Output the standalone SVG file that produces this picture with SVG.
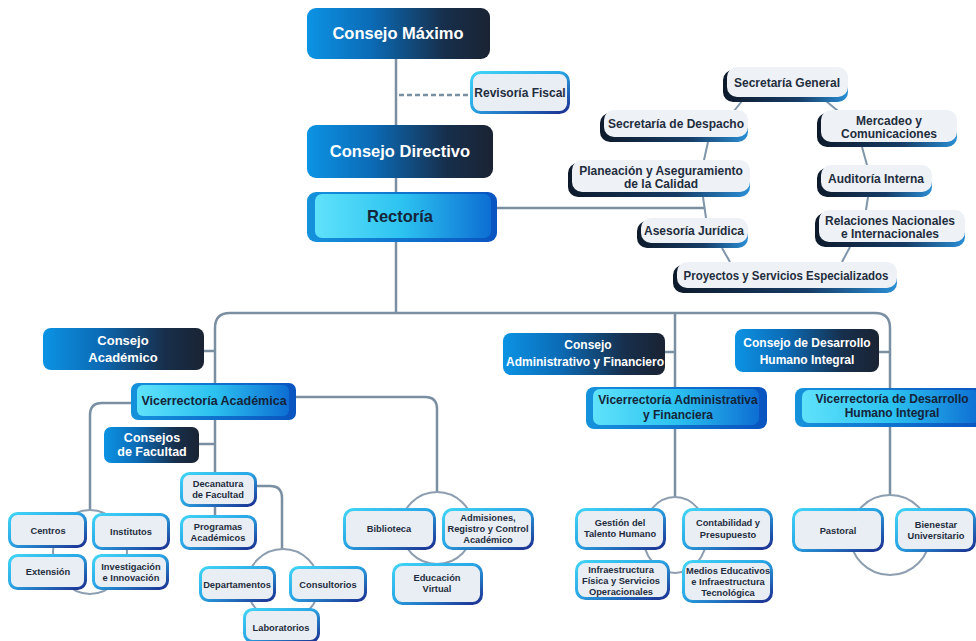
<svg xmlns="http://www.w3.org/2000/svg" width="976" height="641" viewBox="0 0 976 641">
<defs>
<linearGradient id="gDark" x1="0" y1="0" x2="1" y2="0">
<stop offset="0" stop-color="#0c93e4"/><stop offset="0.35" stop-color="#0b6bb6"/><stop offset="0.75" stop-color="#172f4c"/><stop offset="1" stop-color="#1a2333"/>
</linearGradient>
<linearGradient id="gVicOut" x1="0" y1="0" x2="1" y2="0">
<stop offset="0" stop-color="#1592dc"/><stop offset="1" stop-color="#0a54c0"/>
</linearGradient>
<linearGradient id="gVicIn" x1="0" y1="0" x2="1" y2="0">
<stop offset="0" stop-color="#5fe2fb"/><stop offset="0.5" stop-color="#2cc2f0"/><stop offset="1" stop-color="#0d6ed3"/>
</linearGradient>
<linearGradient id="gShadow" x1="0" y1="0" x2="1" y2="0">
<stop offset="0" stop-color="#0d1a2b"/><stop offset="0.6" stop-color="#163c66"/><stop offset="1" stop-color="#2a8ed4"/>
</linearGradient>
<linearGradient id="gStroke" x1="0" y1="0" x2="1" y2="1">
<stop offset="0" stop-color="#42d4f5"/><stop offset="0.45" stop-color="#2aa8e6"/><stop offset="1" stop-color="#1b2f91"/>
</linearGradient>
<style>
.t{font-family:"Liberation Sans",Arial,sans-serif;font-weight:bold;text-anchor:middle}
.w{fill:#ffffff}
.d{fill:#14243a}
.cl{fill:#1f2d3d;font-size:12px}
.sm{fill:#1f2d3d;font-size:9.3px}
.ln{fill:none;stroke:#7b8fa3;stroke-width:2.5}
.lc{fill:none;stroke:#7f95aa;stroke-width:2}
.ring{fill:none;stroke:#8d9eb0;stroke-width:2}
.dk{fill:url(#gDark)}
.vo{fill:url(#gVicOut)}
.vi{fill:url(#gVicIn)}
.sh{fill:url(#gShadow)}
.face{fill:#eef2f7}
.sb{fill:#e9eef5;stroke:url(#gStroke);stroke-width:3}
</style>
</defs>
<rect width="976" height="641" fill="#ffffff"/>

<g id="connectors">
<path class="ln" d="M396,59 V125"/>
<path class="ln" d="M399,95 H470" stroke-dasharray="5 3"/>
<path class="ln" d="M396,178 V192"/>
<path class="ln" d="M396,242 V313"/>
<path class="ln" d="M497,208 H704" stroke-width="3"/>
<path class="lc" d="M742,101 L734,111"/>
<path class="lc" d="M708,142 L704,160"/>
<path class="lc" d="M703,197 L706,218"/>
<path class="lc" d="M722,248 L730,262"/>
<path class="lc" d="M826,101 L838,111"/>
<path class="lc" d="M862,147 L867,165"/>
<path class="lc" d="M868,197 L866,210"/>
<path class="lc" d="M850,247 L842,262"/>
<path class="ln" d="M215,383 V328 Q215,313 230,313 H875 Q890,313 890,328 V388"/>
<path class="ln" d="M675,313 V387"/>
<path class="ln" d="M204,351 H215"/>
<path class="ln" d="M665,352 H675"/>
<path class="ln" d="M879,352 H890"/>
<path class="ln" d="M215,420 V472"/>
<path class="ln" d="M199,444 H215"/>
<path class="ln" d="M215,507 V515"/>
<path class="ln" d="M296,397 H425 Q437,397 437,409 V492"/>
<path class="ln" d="M131,403 H102 Q90,403 90,415 V510"/>
<path class="ln" d="M257,486 H270 Q282,486 282,498 V549"/>
<path class="ln" d="M675,429 V497"/>
<path class="ln" d="M890,427 V495"/>
<ellipse class="ring" cx="90" cy="552" rx="37" ry="42"/>
<circle class="ring" cx="283" cy="585" r="36"/>
<circle class="ring" cx="437" cy="528" r="36"/>
<ellipse class="ring" cx="675" cy="535" rx="32" ry="38"/>
<circle class="ring" cx="890" cy="535" r="40"/>
</g>

<g id="consejo-maximo">
<rect class="dk" x="307" y="8" width="183" height="51" rx="9"/>
<text class="t w" x="398" y="39" font-size="16.5">Consejo Máximo</text>
</g>
<g id="revisoria-fiscal">
<rect class="sb" x="471.5" y="72.5" width="97" height="40" rx="9"/>
<text class="t" x="520" y="97" font-size="12" fill="#1f2d3d">Revisoría Fiscal</text>
</g>
<g id="consejo-directivo">
<rect class="dk" x="307" y="125" width="186" height="53" rx="9"/>
<text class="t w" x="400" y="157" font-size="16.5">Consejo Directivo</text>
</g>
<g id="rectoria">
<rect class="vo" x="307" y="192" width="190" height="50" rx="9"/>
<rect class="vi" x="315" y="194" width="176" height="44" rx="7"/>
<text class="t d" x="400" y="222" font-size="16.5">Rectoría</text>
</g>

<g id="secretaria-general">
<rect class="sh" x="723" y="70" width="125" height="32" rx="10"/>
<rect class="face" x="727" y="67" width="121" height="30" rx="10"/>
<text class="t cl" x="787" y="87">Secretaría General</text>
</g>
<g id="secretaria-despacho">
<rect class="sh" x="600" y="113" width="148" height="29" rx="10"/>
<rect class="face" x="604" y="110" width="144" height="27" rx="10"/>
<text class="t cl" x="676" y="128">Secretaría de Despacho</text>
</g>
<g id="planeacion">
<rect class="sh" x="568" y="163" width="182" height="34" rx="10"/>
<rect class="face" x="572" y="160" width="178" height="32" rx="10"/>
<text class="t cl" x="661" y="175">Planeación y Aseguramiento</text>
<text class="t cl" x="661" y="188">de la Calidad</text>
</g>
<g id="asesoria-juridica">
<rect class="sh" x="637" y="221" width="111" height="27" rx="10"/>
<rect class="face" x="641" y="218" width="107" height="25" rx="10"/>
<text class="t cl" x="694" y="235">Asesoría Jurídica</text>
</g>
<g id="proyectos">
<rect class="sh" x="673" y="265" width="224" height="28" rx="10"/>
<rect class="face" x="677" y="262" width="220" height="26" rx="10"/>
<text class="t cl" x="786" y="280" textLength="205" lengthAdjust="spacingAndGlyphs">Proyectos y Servicios Especializados</text>
</g>
<g id="mercadeo">
<rect class="sh" x="817" y="113" width="140" height="34" rx="10"/>
<rect class="face" x="821" y="110" width="136" height="32" rx="10"/>
<text class="t cl" x="889" y="125">Mercadeo y</text>
<text class="t cl" x="889" y="138">Comunicaciones</text>
</g>
<g id="auditoria">
<rect class="sh" x="817" y="168" width="115" height="29" rx="10"/>
<rect class="face" x="821" y="165" width="111" height="27" rx="10"/>
<text class="t cl" x="876" y="183">Auditoría Interna</text>
</g>
<g id="relaciones">
<rect class="sh" x="815" y="213" width="150" height="34" rx="10"/>
<rect class="face" x="819" y="210" width="146" height="32" rx="10"/>
<text class="t cl" x="890" y="225">Relaciones Nacionales</text>
<text class="t cl" x="890" y="238">e Internacionales</text>
</g>

<g id="consejo-academico">
<rect class="dk" x="43" y="328" width="161" height="42" rx="8"/>
<text class="t w" x="123" y="345" font-size="13">Consejo</text>
<text class="t w" x="123" y="362" font-size="13">Académico</text>
</g>
<g id="vicerrectoria-academica">
<rect class="vo" x="131" y="383" width="165" height="37" rx="7"/>
<rect class="vi" x="137" y="385" width="152" height="31" rx="6"/>
<text class="t d" x="214" y="405" font-size="12.5">Vicerrectoría Académica</text>
</g>
<g id="consejos-facultad">
<rect class="dk" x="104" y="427" width="95" height="36" rx="7"/>
<text class="t w" x="152" y="442" font-size="12.5">Consejos</text>
<text class="t w" x="152" y="456" font-size="12.5">de Facultad</text>
</g>
<g id="consejo-administrativo">
<rect class="dk" x="503" y="333" width="162" height="42" rx="8"/>
<text class="t w" x="588" y="349" font-size="12">Consejo</text>
<text class="t w" x="585" y="366" font-size="12">Administrativo y Financiero</text>
</g>
<g id="vicerrectoria-administrativa">
<rect class="vo" x="586" y="387" width="181" height="42" rx="8"/>
<rect class="vi" x="593" y="389" width="166" height="36" rx="7"/>
<text class="t d" x="678" y="404" font-size="12">Vicerrectoría Administrativa</text>
<text class="t d" x="678" y="419" font-size="12">y Financiera</text>
</g>
<g id="consejo-desarrollo">
<rect class="dk" x="735" y="329" width="144" height="43" rx="8"/>
<text class="t w" x="807" y="347" font-size="12">Consejo de Desarrollo</text>
<text class="t w" x="807" y="364" font-size="12">Humano Integral</text>
</g>
<g id="vicerrectoria-desarrollo">
<rect class="vo" x="795" y="388" width="190" height="39" rx="8"/>
<rect class="vi" x="802" y="390" width="178" height="33" rx="7"/>
<text class="t d" x="892" y="403" font-size="12">Vicerrectoría de Desarrollo</text>
<text class="t d" x="892" y="417" font-size="12">Humano Integral</text>
</g>

<g id="centros">
<rect class="sb" x="9.5" y="513.5" width="76" height="33" rx="8"/>
<text class="t sm" x="48" y="534">Centros</text>
</g>
<g id="institutos">
<rect class="sb" x="93.5" y="514.5" width="75" height="34" rx="8"/>
<text class="t sm" x="131" y="535">Institutos</text>
</g>
<g id="extension">
<rect class="sb" x="9.5" y="555.5" width="76" height="33" rx="8"/>
<text class="t sm" x="48" y="575">Extensión</text>
</g>
<g id="investigacion">
<rect class="sb" x="93.5" y="555.5" width="74" height="33" rx="8"/>
<text class="t sm" x="131" y="570">Investigación</text>
<text class="t sm" x="131" y="581">e Innovación</text>
</g>
<g id="decanatura">
<rect class="sb" x="181.5" y="473.5" width="74" height="32" rx="8"/>
<text class="t sm" x="218" y="487">Decanatura</text>
<text class="t sm" x="218" y="498">de Facultad</text>
</g>
<g id="programas">
<rect class="sb" x="181.5" y="516.5" width="74" height="32" rx="8"/>
<text class="t sm" x="218" y="530">Programas</text>
<text class="t sm" x="218" y="541">Académicos</text>
</g>
<g id="departamentos">
<rect class="sb" x="200.5" y="567.5" width="74" height="33" rx="8"/>
<text class="t sm" x="237" y="588">Departamentos</text>
</g>
<g id="consultorios">
<rect class="sb" x="290.5" y="567.5" width="75" height="33" rx="8"/>
<text class="t sm" x="328" y="588">Consultorios</text>
</g>
<g id="laboratorios">
<rect class="sb" x="244.5" y="609.5" width="74" height="32" rx="8"/>
<text class="t sm" x="281" y="631">Laboratorios</text>
</g>
<g id="biblioteca">
<rect class="sb" x="344.5" y="509.5" width="90" height="39" rx="9"/>
<text class="t sm" x="389" y="532">Biblioteca</text>
</g>
<g id="admisiones">
<rect class="sb" x="443.5" y="509.5" width="89" height="39" rx="9"/>
<text class="t sm" x="488" y="521">Admisiones,</text>
<text class="t sm" x="488" y="532">Registro y Control</text>
<text class="t sm" x="488" y="543">Académico</text>
</g>
<g id="educacion-virtual">
<rect class="sb" x="393.5" y="564.5" width="88" height="39" rx="9"/>
<text class="t sm" x="437" y="581">Educación</text>
<text class="t sm" x="437" y="592">Virtual</text>
</g>
<g id="gestion-talento">
<rect class="sb" x="576.5" y="509.5" width="88" height="39" rx="9"/>
<text class="t sm" x="620" y="526">Gestión del</text>
<text class="t sm" x="620" y="537">Talento Humano</text>
</g>
<g id="contabilidad">
<rect class="sb" x="683.5" y="509.5" width="88" height="39" rx="9"/>
<text class="t sm" x="728" y="526">Contabilidad y</text>
<text class="t sm" x="728" y="538">Presupuesto</text>
</g>
<g id="infraestructura">
<rect class="sb" x="576.5" y="561.5" width="92" height="37" rx="9"/>
<text class="t sm" x="621" y="573">Infraestructura</text>
<text class="t sm" x="621" y="584">Física y Servicios</text>
<text class="t sm" x="621" y="595">Operacionales</text>
</g>
<g id="medios">
<rect class="sb" x="683.5" y="561.5" width="88" height="40" rx="9"/>
<text class="t sm" x="728" y="574">Medios Educativos</text>
<text class="t sm" x="728" y="585">e Infraestructura</text>
<text class="t sm" x="728" y="596">Tecnológica</text>
</g>
<g id="pastoral">
<rect class="sb" x="793.5" y="509.5" width="89" height="41" rx="9"/>
<text class="t sm" x="838" y="534">Pastoral</text>
</g>
<g id="bienestar">
<rect class="sb" x="896.5" y="509.5" width="78" height="41" rx="9"/>
<text class="t sm" x="936" y="528">Bienestar</text>
<text class="t sm" x="936" y="539">Universitario</text>
</g>
</svg>
